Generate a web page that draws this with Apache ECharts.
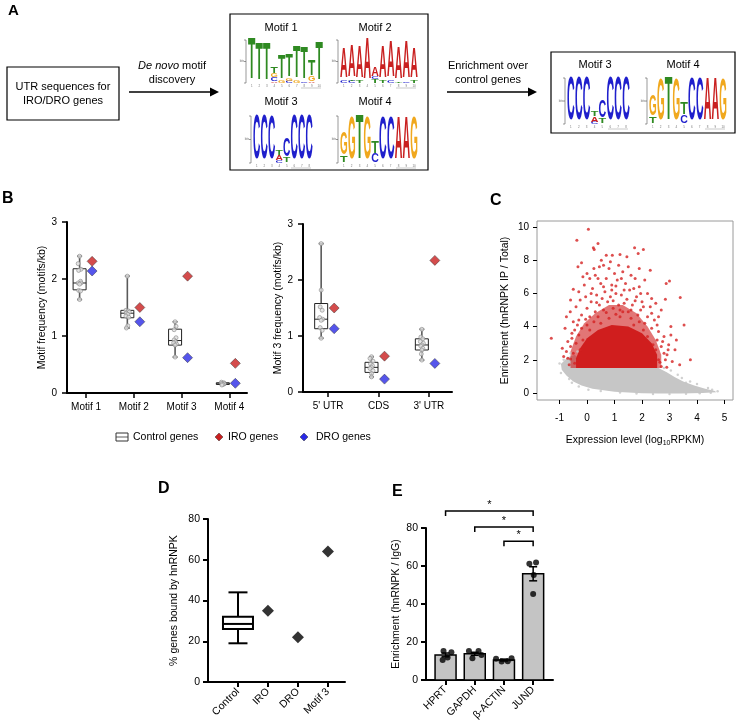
<!DOCTYPE html>
<html><head><meta charset="utf-8">
<script src="https://cdn.jsdelivr.net/npm/echarts@6/dist/echarts.min.js"></script>
<style>html,body{margin:0;padding:0;background:#fff}#c{width:738px;height:727px}</style>
</head><body><div id="c"></div>
<script>
// ---------- Panel B data ----------
const bCats1 = ['Motif 1','Motif 2','Motif 3','Motif 4'];
// [category, min, q1, median, q3, max]
const bBox1 = [[1,1.64,1.81,1.93,2.18,2.40],[2,1.14,1.32,1.40,1.45,2.05],[3,0.63,0.84,0.92,1.12,1.25],[4,0.14,0.15,0.16,0.18,0.19]];
const bPts1 = [[1,2.40],[0.97,2.27],[1.03,2.17],[0.98,2.15],[1.02,1.96],[0.97,1.93],[1.03,1.93],[1,1.91],[0.98,1.80],[1.02,1.79],[1,1.64],
  [2,2.05],[1.97,1.45],[2.02,1.44],[2.04,1.42],[1.98,1.40],[2.01,1.38],[1.97,1.35],[2.03,1.33],[2.01,1.18],[1.98,1.14],
  [3,1.25],[3.02,1.17],[2.98,1.11],[3.02,0.97],[2.98,0.93],[3.01,0.90],[2.97,0.88],[3.03,0.86],[3,0.84],[3,0.63],
  [3.97,0.19],[4.02,0.18],[3.98,0.17],[4.03,0.16],[4,0.15],[3.98,0.14]];
const bIro1 = [[1,2.31],[2,1.50],[3,2.05],[4,0.52]];
const bDro1 = [[1,2.14],[2,1.25],[3,0.62],[4,0.17]];

const bCats2 = ["5' UTR",'CDS',"3' UTR"];
const bBox2 = [[1,0.96,1.13,1.30,1.58,2.65],[2,0.27,0.35,0.44,0.53,0.63],[3,0.57,0.75,0.84,0.95,1.12]];
const bPts2 = [[1,2.65],[1,1.82],[0.98,1.52],[1.02,1.46],[0.97,1.33],[1.03,1.30],[1,1.28],[0.98,1.15],[1.02,1.10],[1,0.96],
  [2,0.63],[1.97,0.60],[2.03,0.55],[1.98,0.50],[2.02,0.47],[2,0.44],[1.97,0.42],[2.03,0.38],[2,0.33],[2,0.27],
  [3,1.12],[2.98,0.98],[3.02,0.95],[2.97,0.90],[3.03,0.87],[3,0.84],[2.98,0.82],[3.02,0.78],[3,0.75],[2.99,0.68],[3,0.57]];
const bIro2 = [[1,1.50],[2,0.64],[3,2.35]];
const bDro2 = [[1,1.13],[2,0.23],[3,0.51]];

// ---------- Panel C data (hand-estimated) ----------
const cXTicks = [-1,0,1,2,3,4,5];
const cYTicks = [0,2,4,6,8,10];
const cGreyArea = [[-0.95,1.75],[-0.7,2.15],[-0.45,2.3],[-0.2,1.95],[0.1,1.6],[2.6,1.5],[2.9,1.25],[3.2,0.95],[3.5,0.7],[3.9,0.45],[4.3,0.25],[4.65,0.12],[4.7,0.05],[4.2,0.0],[3.4,-0.03],[2.6,-0.03],[2.0,-0.01],[1.5,0.03],[1.0,0.08],[0.6,0.16],[0.2,0.26],[-0.2,0.45],[-0.5,0.7],[-0.75,1.05],[-0.92,1.4]];
const cGreyPts = [[-1.0,1.78],[-0.85,2.0],[-0.65,0.85],[-0.55,0.62],[-0.3,0.4],[0.05,0.2],[0.5,0.12],[1.2,0.03],[1.8,-0.03],[2.4,-0.06],[3.0,-0.06],[3.6,-0.05],[4.1,-0.02],[4.5,0.02],[4.75,0.1],[4.55,0.2],[4.4,0.3],[4.0,0.55],[3.75,0.7],[3.45,0.9],[3.3,1.1],[3.05,1.35],[2.8,1.5],[3.6,0.62],[-0.95,1.2],[-0.8,1.55],[-0.6,2.4],[-0.35,2.5]];
const cRedHalo = [[-0.6,1.5],[2.7,1.5],[2.7,2.3],[2.5,3.2],[2.2,4.0],[1.8,4.8],[1.3,5.3],[0.8,5.3],[0.3,4.8],[-0.1,4.2],[-0.4,3.4],[-0.6,2.5]];
const cRedCore = [[-0.4,1.5],[2.55,1.5],[2.55,2.3],[2.35,3.0],[2.0,3.6],[1.5,4.0],[0.9,4.1],[0.4,3.8],[0.0,3.3],[-0.25,2.7],[-0.4,2.1]];
const cRedPts = [[0.05,9.86],[-0.37,9.2],[0.4,9.0],[0.23,8.75],[0.26,8.65],[1.73,8.75],[2.05,8.65],[0.92,8.3],[1.2,8.35],[1.86,8.4],[0.52,8.0],[-0.2,7.85],[-0.33,7.6],[3.0,6.75],[2.88,6.6],[3.39,5.75],[2.85,5.65],[3.53,4.1],[-1.3,3.3],[3.76,2.0],[3.37,1.7],[2.91,2.3],[2.97,2.9],[-0.61,4.9],[-0.5,6.25],[0.0,7.2],
  [0.45,7.6],[0.6,7.7],[0.8,7.5],[1.0,7.2],[1.3,7.3],[1.5,7.6],[1.6,7.1],[1.75,6.9],[2.1,6.8],[0.3,7.1],[0.1,6.9],[-0.1,6.5],[0.2,6.3],[0.5,6.6],[0.7,6.9],[0.9,6.5],[1.1,6.8],[1.4,6.6],[1.9,6.4],[2.2,6.0],[0.35,5.9],[0.65,6.1],[0.85,5.8],[1.05,6.0],[1.25,5.9],[1.55,6.2],[1.8,5.8],[2.0,5.5],[-0.25,5.6],[-0.05,5.8],[0.15,5.5],[0.45,5.3],[0.75,5.5],[1.35,5.4],[1.65,5.3],[1.95,5.0],[2.3,5.2],[2.5,5.4],[-0.4,5.2],[0.0,5.1],[0.3,4.9],[0.6,5.0],[0.95,5.1],[1.15,5.3],[1.5,4.9],[1.85,4.7],[2.2,4.6],[2.45,4.4],[2.6,4.6],[-0.2,4.7],[0.1,4.6],[2.1,4.2],[2.35,3.9],[2.6,3.7],[2.8,3.4],[2.7,2.8],[2.55,3.2],[-0.5,4.3],[-0.45,3.8],[-0.55,3.3],[-0.6,2.8],[-0.5,2.4],[-0.7,2.1],[-0.65,1.7],[-0.35,4.1],[-0.2,3.9],[0.0,4.1],[0.25,4.3],[0.4,4.6],[1.6,4.5],[1.9,4.3],[2.05,3.8],[-0.4,3.0],[-0.3,3.5],[-0.45,1.8],[2.6,2.0],[2.7,1.6],[2.8,2.4],[2.5,2.6],[2.65,1.85],[3.1,1.9],[3.2,2.6],[2.9,1.55],[0.7,8.3],[1.45,8.2],[2.3,7.4],[-0.15,7.0],[2.7,5.0],[3.05,4.0],[3.25,3.2],[-0.8,3.9],[-0.9,2.7],[-0.75,4.6],[-0.6,5.6],
  [0.8,4.5],[1.2,4.6],[0.5,4.2],[1.7,4.1],[0.1,3.8],[2.2,3.4],[-0.15,3.2],[2.4,2.9],[-0.25,2.6],[1.3,4.9],
  [0.55,5.7],[0.95,5.55],[1.2,5.0],[1.45,5.65],[1.75,5.55],[1.05,4.75],[0.7,4.85],[0.35,5.45],[1.6,5.0],[2.05,5.2],[2.35,4.8],[2.55,4.1],[2.75,3.1],[2.85,2.0],[2.95,2.6],[3.05,3.5],[-0.05,4.45],[-0.3,4.4],[-0.55,3.6],[-0.7,3.1],[-0.75,2.5],[-0.85,2.2],[-0.6,2.05],[0.9,6.2],[1.35,6.2],[0.15,6.0],[1.7,6.3],[0.6,6.4],[2.35,5.7],[-0.3,6.1],[1.05,6.45],[0.25,7.5],[1.15,7.7],[1.9,7.5],[0.85,7.9],[1.95,6.0],[0.4,6.9],[1.25,6.9]];

// ---------- Panel D data ----------
const dCats = ['Control','IRO','DRO','Motif 3'];
const dBox = [[1,19,26,28.5,32,44]];
const dPts = [[2,35],[3,22],[4,64]];

// ---------- Panel E data ----------
const eCats = ['HPRT','GAPDH','β-ACTIN','JUND'];
const eMeans = [13.2,13.8,10.5,55.9];
const eSem = [1.0,0.8,0.5,3.7];
const eDots = [[0.93,15.3],[1.2,14.6],[0.9,10.5],[1.07,11.9],[1.8,15.3],[2.13,15.3],[1.92,11.4],[2.23,13.2],[2.73,11.2],[2.92,9.8],[3.13,9.9],[3.26,11.5],[3.87,61.2],[4.1,61.9],[4.0,45.3],[4.02,55.2]];
const eSig = [[1,4,89],[2,4,80.5],[3,4,73]];

// ---------- Panel A motif logos (letter, relative height) ----------
const motif1 = [[['T',0.96]],[['T',0.86]],[['T',0.86]],[['A',0.04],['C',0.08],['G',0.09],['T',0.15]],[['G',0.06],['T',0.56]],[['C',0.05],['G',0.05],['T',0.52]],[['G',0.05],['T',0.73]],[['C',0.04],['T',0.74]],[['A',0.03],['G',0.12],['T',0.35]],[['T',0.9]]];
const motif2 = [[['C',0.06],['A',0.7]],[['C',0.05],['T',0.03],['A',0.72]],[['T',0.05],['A',0.72]],[['A',0.95]],[['T',0.08],['C',0.05],['A',0.2]],[['T',0.06],['A',0.72]],[['C',0.06],['A',0.82]],[['T',0.04],['A',0.74]],[['C',0.04],['A',0.84]],[['T',0.07],['A',0.7]]];
const motif3 = [[['C',0.95]],[['C',0.95]],[['C',0.93]],[['C',0.04],['A',0.12],['T',0.1]],[['T',0.1],['C',0.38]],[['C',0.95]],[['C',0.95]],[['C',0.95]]];
const motif4 = [[['T',0.14],['G',0.46]],[['G',0.88]],[['T',0.95]],[['G',0.88]],[['C',0.18],['T',0.26]],[['C',0.9]],[['C',0.9]],[['A',0.9]],[['A',0.9]],[['G',0.88]]];

// =====================================================
const FF = '"Liberation Sans", Arial, sans-serif';
const G = [];
function T(x,y,text,opt){ G.push({type:'text', x:x, y:y, silent:true, z:100, style:Object.assign({text:text, fill:'#000', font:'11px '+FF, align:'center', verticalAlign:'middle'}, opt||{})}); }
function L(x1,y1,x2,y2,w,c){ G.push({type:'line', silent:true, z:100, shape:{x1:x1,y1:y1,x2:x2,y2:y2}, style:{stroke:c||'#000', lineWidth:w||1}}); }
function R(x,y,w,h,lw){ G.push({type:'rect', silent:true, z:100, shape:{x:x,y:y,width:w,height:h}, style:{fill:'transparent', stroke:'#000', lineWidth:lw||1.2}}); }
function arrow(x1,x2,y){ L(x1,y,x2-7,y,1.5); G.push({type:'polygon', silent:true, z:100, shape:{points:[[x2,y],[x2-9,y-4.5],[x2-9,y+4.5]]}, style:{fill:'#000'}}); }
const GW = {A:0.722,C:0.722,G:0.778,T:0.611};
const GC = {A:'#c92020',C:'#1f1fcc',G:'#f0a81e',T:'#2f8a22'};
function logo(x0,yTop,w,h,cols){
  const cw = w/cols.length, F = 100;
  cols.forEach(function(stack,i){
    let yb = yTop+h; const cx = x0+cw*i+cw/2;
    stack.forEach(function(s){
      const lh = s[1]*h;
      G.push({type:'text', silent:true, z:100, x:cx, y:yb-lh/2, scaleX:cw*0.98/(GW[s[0]]*F), scaleY:lh/(0.71*F),
        style:{text:s[0], font:'bold '+F+'px '+FF, fill:GC[s[0]], align:'center', verticalAlign:'middle'}});
      yb -= lh;
    });
    T(cx, yTop+h+3, String(i+1), {font:'3px '+FF, fill:'#777'});
  });
  L(x0-2,yTop,x0-2,yTop+h,0.6,'#555');
  [0,0.5,1].forEach(function(f){ L(x0-4,yTop+h*f,x0-2,yTop+h*f,0.6,'#555'); });
  T(x0-6,yTop+h*0.5,'bits',{font:'3px '+FF, fill:'#777', rotation:Math.PI/2});
  L(x0+w-22,yTop+h+5,x0+w-2,yTop+h+5,0.8,'#bbb');
}

// panel letters
T(8,11,'A',{font:'bold 15px '+FF, align:'left'});
T(2,199,'B',{font:'bold 16px '+FF, align:'left'});
T(490,201,'C',{font:'bold 16px '+FF, align:'left'});
T(158,489,'D',{font:'bold 16px '+FF, align:'left'});
T(392,492,'E',{font:'bold 16px '+FF, align:'left'});

// Panel A
R(7,67,112,53);
T(63,87,'UTR sequences for'); T(63,101,'IRO/DRO genes');
G.push({type:'text', x:172, y:66, silent:true, z:100, style:{text:'{i|De novo} motif', fill:'#000', font:'11px '+FF, align:'center', verticalAlign:'middle', rich:{i:{fontStyle:'italic', fontSize:11, fontFamily:FF}}}});
T(172,80,'discovery');
arrow(129,219,92);
R(230,14,198,156);
T(281,28,'Motif 1'); T(375,28,'Motif 2'); T(281,102,'Motif 3'); T(375,102,'Motif 4');
logo(248,40,75,43,motif1);
logo(340,40,78,43,motif2);
logo(253,116,60,47,motif3);
logo(340,116,78,47,motif4);
T(488,66,'Enrichment over'); T(488,80,'control genes');
arrow(447,537,92);
R(551,52,184,81);
T(595,65,'Motif 3'); T(683,65,'Motif 4');
logo(567,78,63,46,motif3);
logo(649,78,78,46,motif4);

// Legend for B
G.push({type:'rect', silent:true, z:100, shape:{x:116,y:433,width:12,height:8}, style:{fill:'#fff', stroke:'#333', lineWidth:1}});
L(116,437,128,437,0.8,'#333');
T(133,437,'Control genes',{align:'left', font:'10.5px '+FF});
G.push({type:'polygon', silent:true, z:100, shape:{points:[[219,433],[223,437],[219,441],[215,437]]}, style:{fill:'#c91f1f', stroke:'#333', lineWidth:0.5}});
T(228,437,'IRO genes',{align:'left', font:'10.5px '+FF});
G.push({type:'polygon', silent:true, z:100, shape:{points:[[304,433],[308,437],[304,441],[300,437]]}, style:{fill:'#2a2ae6', stroke:'#333', lineWidth:0.5}});
T(316,437,'DRO genes',{align:'left', font:'10.5px '+FF});

// ---------- renderers ----------
function boxRenderer(o){
  return function(params, api){
    const x = api.value(0);
    const p = function(i){ return api.coord([x, api.value(i)]); };
    const lo=p(1), q1=p(2), md=p(3), q3=p(4), hi=p(5);
    const cx = lo[0]+o.dx;
    const ws = {stroke:o.whisk, lineWidth:o.wl};
    return {type:'group', children:[
      {type:'line', shape:{x1:cx,y1:hi[1],x2:cx,y2:q3[1]}, style:ws},
      {type:'line', shape:{x1:cx,y1:q1[1],x2:cx,y2:lo[1]}, style:ws},
      {type:'line', shape:{x1:cx-o.cw/2,y1:hi[1],x2:cx+o.cw/2,y2:hi[1]}, style:ws},
      {type:'line', shape:{x1:cx-o.cw/2,y1:lo[1],x2:cx+o.cw/2,y2:lo[1]}, style:ws},
      {type:'rect', shape:{x:cx-o.bw/2,y:q3[1],width:o.bw,height:q1[1]-q3[1]}, style:{fill:'#fff', stroke:o.stroke, lineWidth:o.lw}},
      {type:'line', shape:{x1:cx-o.bw/2,y1:md[1],x2:cx+o.bw/2,y2:md[1]}, style:{stroke:o.stroke, lineWidth:o.lw}}
    ]};
  };
}
function polyRenderer(arr, color){
  return function(params, api){
    if (params.dataIndex !== 0) return null;
    return {type:'polygon', shape:{points:arr.map(function(p){ return api.coord(p); })}, style:{fill:color}};
  };
}
function barRenderer(params, api){
  const x=api.value(0), m=api.value(1), s=api.value(2);
  const b=api.coord([x,0]), t=api.coord([x,m]), h=api.coord([x,m+s]), l=api.coord([x,m-s]);
  const w=21, cw=8;
  return {type:'group', children:[
    {type:'rect', shape:{x:b[0]-w/2,y:t[1],width:w,height:b[1]-t[1]}, style:{fill:'#c4c4c4', stroke:'#000', lineWidth:1.5}},
    {type:'line', shape:{x1:t[0],y1:h[1],x2:t[0],y2:l[1]}, style:{stroke:'#000', lineWidth:1.5}},
    {type:'line', shape:{x1:t[0]-cw/2,y1:h[1],x2:t[0]+cw/2,y2:h[1]}, style:{stroke:'#000', lineWidth:1.5}},
    {type:'line', shape:{x1:t[0]-cw/2,y1:l[1],x2:t[0]+cw/2,y2:l[1]}, style:{stroke:'#000', lineWidth:1.5}}
  ]};
}
function bracketRenderer(params, api){
  const a=api.coord([api.value(0),api.value(2)]), b=api.coord([api.value(1),api.value(2)]);
  return {type:'group', children:[
    {type:'polyline', shape:{points:[[a[0],a[1]+5],[a[0],a[1]],[b[0],b[1]],[b[0],b[1]+5]]}, style:{stroke:'#000', lineWidth:1.5, fill:null}},
    {type:'text', x:(a[0]+b[0])/2, y:a[1]-6, style:{text:'*', fill:'#000', font:'11px '+FF, align:'center', verticalAlign:'middle'}}
  ]};
}

// ---------- axes helpers ----------
function blackAxis(extra){
  return Object.assign({
    type:'value', splitLine:{show:false},
    axisLine:{show:true, onZero:false, lineStyle:{color:'#000', width:2}},
    axisTick:{show:true, length:5, lineStyle:{color:'#000', width:1.5}},
    axisLabel:{color:'#000', fontSize:10, fontFamily:FF}
  }, extra);
}

const chart = echarts.init(document.getElementById('c'), null, {renderer:'canvas'});
chart.setOption({
  animation:false,
  backgroundColor:'#fff',
  textStyle:{fontFamily:FF},
  graphic:{elements:G},
  grid:[
    {left:67, top:222, width:180, height:171},
    {left:303, top:224, width:149, height:168},
    {left:537, top:221, width:196, height:179, show:true, borderColor:'#9a9a9a', borderWidth:1, backgroundColor:'transparent'},
    {left:208, top:519, width:137, height:163},
    {left:426, top:528, width:127, height:152}
  ],
  xAxis:[
    blackAxis({gridIndex:0, min:0.6, max:4.37,
      axisTick:{show:true, length:5, customValues:[1,2,3,4], lineStyle:{color:'#000', width:1.5}},
      axisLabel:{customValues:[1,2,3,4], formatter:function(v){ return bCats1[Math.round(v)-1]; }, color:'#000', fontSize:10, margin:9}}),
    blackAxis({gridIndex:1, min:0.5, max:3.46,
      axisTick:{show:true, length:5, customValues:[1,2,3], lineStyle:{color:'#000', width:1.5}},
      axisLabel:{customValues:[1,2,3], formatter:function(v){ return bCats2[Math.round(v)-1]; }, color:'#000', fontSize:10, margin:9}}),
    {type:'value', gridIndex:2, min:-1.82, max:5.31, splitLine:{show:false},
      axisLine:{show:false, onZero:false},
      axisTick:{show:true, length:4, customValues:cXTicks, lineStyle:{color:'#000', width:1}},
      axisLabel:{customValues:cXTicks, color:'#000', fontSize:10, margin:13},
      name:'{a|Expression level (log}{s|10}{a|RPKM)}', nameLocation:'middle', nameGap:34,
      nameTextStyle:{rich:{a:{fontSize:10.5, color:'#000', fontFamily:FF}, s:{fontSize:7, color:'#000', fontFamily:FF, padding:[6,0,0,0]}}}},
    blackAxis({gridIndex:3, min:0, max:4.57,
      axisTick:{show:true, length:5, customValues:[1,2,3,4], lineStyle:{color:'#000', width:2}},
      axisLabel:{customValues:[1,2,3,4], formatter:function(v){ return dCats[Math.round(v)-1]; }, color:'#000', fontSize:10.5, margin:8, rotate:45}}),
    blackAxis({gridIndex:4, min:0.33, max:4.68,
      axisTick:{show:true, length:5, customValues:[1,2,3,4], lineStyle:{color:'#000', width:2}},
      axisLabel:{customValues:[1,2,3,4], formatter:function(v){ return eCats[Math.round(v)-1]; }, color:'#000', fontSize:10.5, margin:8, rotate:45}})
  ],
  yAxis:[
    blackAxis({gridIndex:0, min:0, max:3, interval:1, axisLabel:{color:'#000', fontSize:10, margin:10},
      name:'Motif frequency (motifs/kb)', nameLocation:'middle', nameGap:17, nameTextStyle:{fontSize:10.5, color:'#000'}}),
    blackAxis({gridIndex:1, min:0, max:3, interval:1, axisLabel:{color:'#000', fontSize:10, margin:10},
      name:'Motif 3 frequency (motifs/kb)', nameLocation:'middle', nameGap:17, nameTextStyle:{fontSize:10.5, color:'#000'}}),
    {type:'value', gridIndex:2, min:-0.42, max:10.36, splitLine:{show:false},
      axisLine:{show:false, onZero:false},
      axisTick:{show:true, length:4, customValues:cYTicks, lineStyle:{color:'#000', width:1}},
      axisLabel:{customValues:cYTicks, color:'#000', fontSize:10, margin:8},
      name:'Enrichment (hnRNPK IP / Total)', nameLocation:'middle', nameGap:26, nameTextStyle:{fontSize:10.5, color:'#000'}},
    blackAxis({gridIndex:3, min:0, max:80, interval:20, axisTick:{show:true,length:5,lineStyle:{color:'#000',width:2}}, axisLabel:{color:'#000', fontSize:10.5, margin:8},
      name:'% genes bound by hnRNPK', nameLocation:'middle', nameGap:28, nameTextStyle:{fontSize:10.5, color:'#000'}}),
    blackAxis({gridIndex:4, min:0, max:80, interval:20, axisTick:{show:true,length:5,lineStyle:{color:'#000',width:2}}, axisLabel:{color:'#000', fontSize:10.5, margin:8},
      name:'Enrichment (hnRNPK / IgG)', nameLocation:'middle', nameGap:24, nameTextStyle:{fontSize:10.5, color:'#000'}})
  ],
  series:[
    {type:'custom', xAxisIndex:0, yAxisIndex:0, data:bBox1, encode:{x:0,y:[1,2,3,4,5]},
      renderItem:boxRenderer({dx:-6.5, bw:13, cw:5, stroke:'#222', lw:1, whisk:'#5a5a5a', wl:1.6})},
    {type:'scatter', xAxisIndex:0, yAxisIndex:0, data:bPts1, symbolSize:4, symbolOffset:[-6.5,0],
      itemStyle:{color:'#dedede', borderColor:'#8a8a8a', borderWidth:0.8}},
    {type:'scatter', xAxisIndex:0, yAxisIndex:0, data:bIro1, symbol:'diamond', symbolSize:10, symbolOffset:[6,0],
      itemStyle:{color:'#c91f1f', borderColor:'#333', borderWidth:0.6}},
    {type:'scatter', xAxisIndex:0, yAxisIndex:0, data:bDro1, symbol:'diamond', symbolSize:10, symbolOffset:[6,0],
      itemStyle:{color:'#2a2ae6', borderColor:'#333', borderWidth:0.6}},

    {type:'custom', xAxisIndex:1, yAxisIndex:1, data:bBox2, encode:{x:0,y:[1,2,3,4,5]},
      renderItem:boxRenderer({dx:-7, bw:13, cw:5, stroke:'#222', lw:1, whisk:'#5a5a5a', wl:1.6})},
    {type:'scatter', xAxisIndex:1, yAxisIndex:1, data:bPts2, symbolSize:4, symbolOffset:[-7,0],
      itemStyle:{color:'#dedede', borderColor:'#8a8a8a', borderWidth:0.8}},
    {type:'scatter', xAxisIndex:1, yAxisIndex:1, data:bIro2, symbol:'diamond', symbolSize:10, symbolOffset:[6,0],
      itemStyle:{color:'#c91f1f', borderColor:'#333', borderWidth:0.6}},
    {type:'scatter', xAxisIndex:1, yAxisIndex:1, data:bDro2, symbol:'diamond', symbolSize:10, symbolOffset:[6,0],
      itemStyle:{color:'#2a2ae6', borderColor:'#333', borderWidth:0.6}},

    {type:'custom', xAxisIndex:2, yAxisIndex:2, data:cGreyArea, encode:{x:0,y:1}, renderItem:polyRenderer(cGreyArea,'#c6c6c6')},
    {type:'scatter', xAxisIndex:2, yAxisIndex:2, data:cGreyPts, symbolSize:2.5, itemStyle:{color:'#c6c6c6'}},
    {type:'custom', xAxisIndex:2, yAxisIndex:2, data:cRedHalo, encode:{x:0,y:1}, renderItem:polyRenderer(cRedHalo,'rgba(208,34,34,0.62)')},
    {type:'custom', xAxisIndex:2, yAxisIndex:2, data:cRedCore, encode:{x:0,y:1}, renderItem:polyRenderer(cRedCore,'#d01e1e')},
    {type:'scatter', xAxisIndex:2, yAxisIndex:2, data:cRedPts, symbolSize:3, itemStyle:{color:'#d42222'}},

    {type:'custom', xAxisIndex:3, yAxisIndex:3, data:dBox, encode:{x:0,y:[1,2,3,4,5]},
      renderItem:boxRenderer({dx:0, bw:30, cw:19, stroke:'#000', lw:2, whisk:'#000', wl:2})},
    {type:'scatter', xAxisIndex:3, yAxisIndex:3, data:dPts, symbol:'diamond', symbolSize:12, itemStyle:{color:'#000'}},

    {type:'custom', xAxisIndex:4, yAxisIndex:4, data:eMeans.map(function(m,i){ return [i+1, m, eSem[i]]; }), encode:{x:0,y:1}, renderItem:barRenderer},
    {type:'scatter', xAxisIndex:4, yAxisIndex:4, data:eDots, symbolSize:6, itemStyle:{color:'#000'}},
    {type:'custom', xAxisIndex:4, yAxisIndex:4, data:eSig, encode:{x:[0,1],y:2}, clip:false, renderItem:bracketRenderer}
  ]
});
</script></body></html>
